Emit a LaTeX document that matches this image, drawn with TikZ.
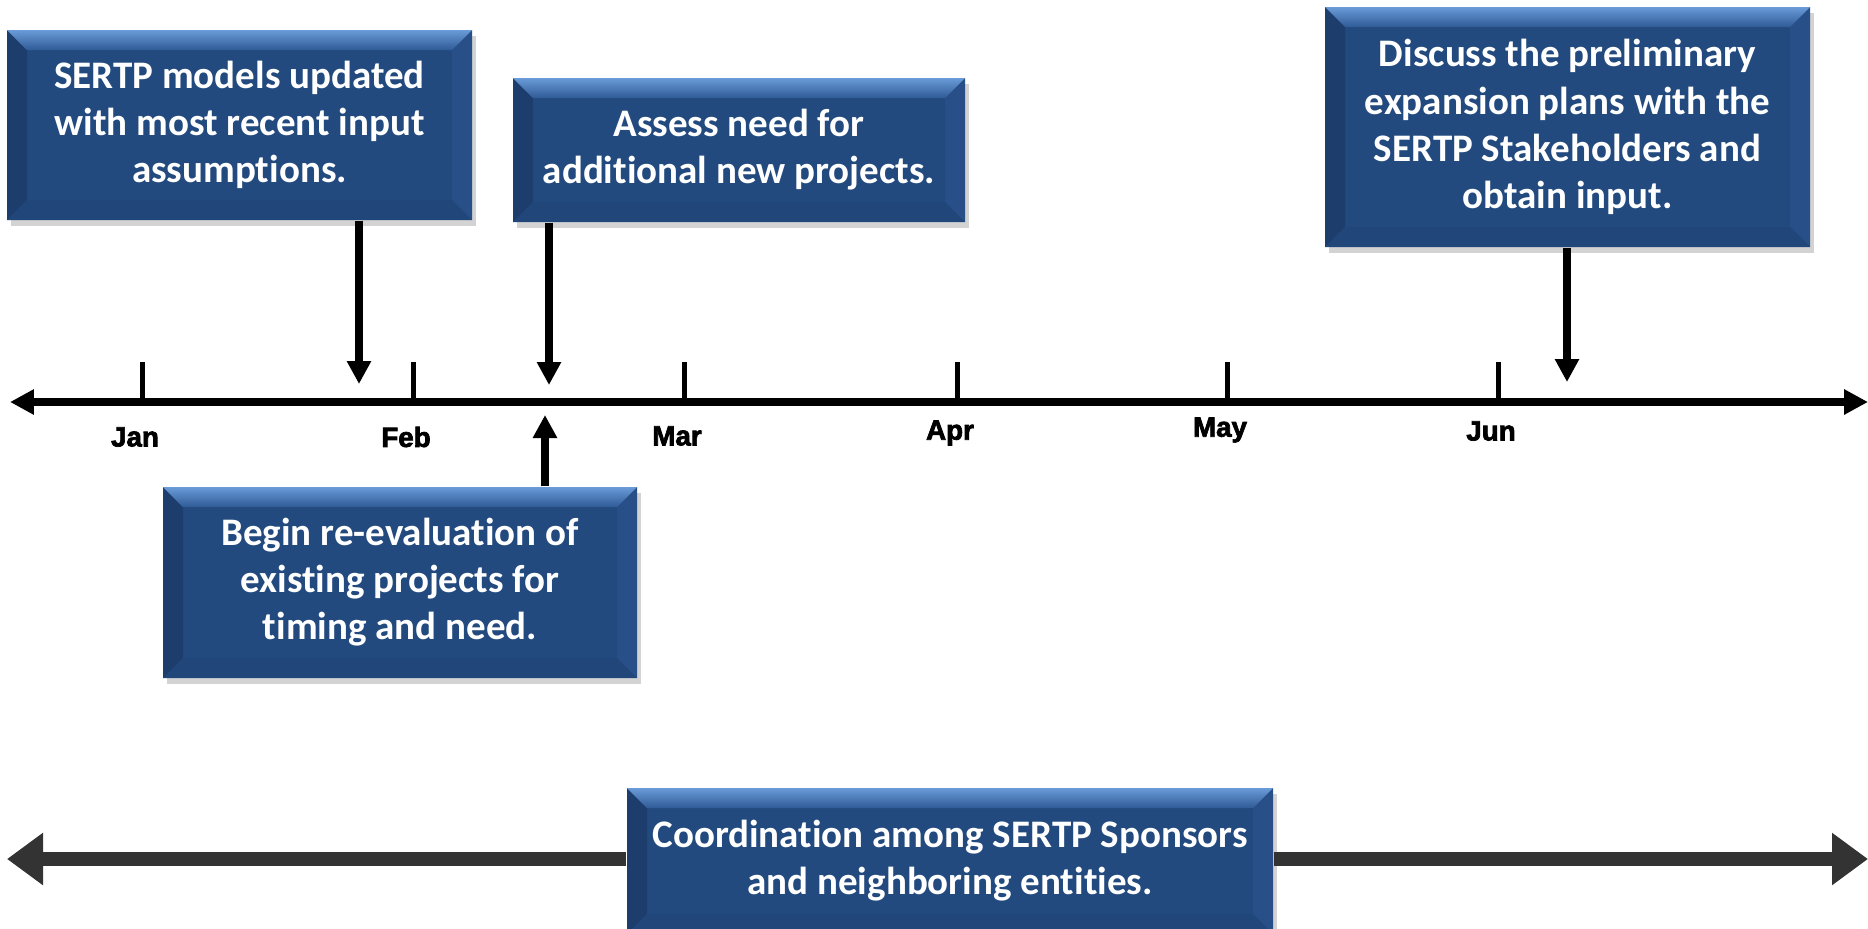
\documentclass[tikz,border=0pt]{standalone}
\usepackage{fontspec}
\setmainfont{Carlito}[Ligatures=NoCommon]
\newfontfamily\monthfont[BoldFeatures={FakeBold=2.6}]{Liberation Sans}
\usetikzlibrary{arrows.meta,shadows}

\definecolor{boxmid}{HTML}{234A7E}
\definecolor{boxtop}{HTML}{6A9BD8}
\definecolor{boxtopb}{HTML}{2F5B96}
\definecolor{boxleft}{HTML}{1D3E6D}
\definecolor{boxright}{HTML}{284F87}
\definecolor{boxbot}{HTML}{21467A}
\definecolor{bar}{HTML}{333333}

\newcommand\bev{2mm}

\tikzset{
  bevelbox/.style={fill=boxmid, text=white, align=center, inner sep=0pt,
    font=\bfseries\fontsize{11.1pt}{13.4pt}\selectfont,
    drop shadow={shadow xshift=0.4mm, shadow yshift=-0.6mm, opacity=0.35},
    path picture={
      \coordinate (bb1) at (path picture bounding box.north west);
      \coordinate (bb2) at (path picture bounding box.north east);
      \coordinate (bb3) at (path picture bounding box.south east);
      \coordinate (bb4) at (path picture bounding box.south west);
      \fill[boxleft] (bb1) -- ([xshift=\bev,yshift=-\bev]bb1) -- ([xshift=\bev,yshift=\bev]bb4) -- (bb4) -- cycle;
      \fill[boxright] (bb2) -- ([xshift=-\bev,yshift=-\bev]bb2) -- ([xshift=-\bev,yshift=\bev]bb3) -- (bb3) -- cycle;
      \fill[boxbot] (bb4) -- ([xshift=\bev,yshift=\bev]bb4) -- ([xshift=-\bev,yshift=\bev]bb3) -- (bb3) -- cycle;
      \shade[top color=boxtop, bottom color=boxtopb] (bb1) -- ([xshift=\bev,yshift=-\bev]bb1) -- ([xshift=-\bev,yshift=-\bev]bb2) -- (bb2) -- cycle;
    }},
  timeline/.style={line width=0.75mm, {Triangle[length=2.4mm,width=2.4mm]}-{Triangle[length=2.4mm,width=2.4mm]}},
  tickmark/.style={line width=0.5mm},
  pointer/.style={line width=0.75mm, -{Triangle[length=2.3mm,width=2.3mm]}},
  span/.style={line width=1.4mm, draw=bar, -{Triangle[length=3.6mm,width=5mm]}},
  month/.style={inner sep=0pt, font=\monthfont\bfseries\fontsize{7.9pt}{9pt}\selectfont}
}

\begin{document}
\begin{tikzpicture}[x=0.1mm, y=-0.1mm]
%\draw[help lines] (0,0) grid[step=100] (1868,928);
\useasboundingbox (0,0) rectangle (1868,928);

% time axis with month ticks
\coordinate (tl-w) at (10,402);
\coordinate (tl-e) at (1868,402);
\draw[timeline] (tl-w) -- (tl-e);
\foreach \m/\x/\y in {Jan/142/437, Feb/413/437, Mar/684/436, Apr/957/433, May/1227/430, Jun/1498/431} {
  \coordinate (t-\m) at (\x,402);
  \draw[tickmark] (t-\m) -- ++(0,-40);
  \node[month] (l-\m) at (\x-7,\y) {\m};
}

% activities
\node[bevelbox, minimum width=46.5mm, minimum height=19mm] (models) at (239.5,125)
  {SERTP models updated\\with most recent input\\assumptions.};
\node[bevelbox, minimum width=45.2mm, minimum height=14.4mm] (assess) at (739,150)
  {Assess need for\\additional new projects.};
\node[bevelbox, minimum width=48.5mm, minimum height=24mm] (discuss) at (1567.5,127)
  {Discuss the preliminary\\expansion plans with the\\SERTP Stakeholders and\\obtain input.};
\node[bevelbox, minimum width=47.4mm, minimum height=19.1mm] (reeval) at (400,582.5)
  {Begin re-evaluation of\\existing projects for\\timing and need.};
\node[bevelbox, minimum width=64.6mm, minimum height=14.6mm] (coord) at (950,861)
  {Coordination among SERTP Sponsors\\and neighboring entities.};

\foreach \b/\x/\y in {models/359/384, assess/549/385, discuss/1567/382} {
  \coordinate (\b-tip) at (\x,\y);
  \draw[pointer] (\b.south -| \b-tip) -- (\b-tip);
}
\coordinate (reeval-tip) at (545,415);
\draw[pointer] (reeval.north -| reeval-tip) -- (reeval-tip);

% ongoing coordination
\coordinate (span-w) at (7,859);
\coordinate (span-e) at (1868,859);
\draw[span] (coord.west |- span-w) -- (span-w);
\draw[span] (coord.east |- span-e) -- (span-e);
\end{tikzpicture}
\end{document}
